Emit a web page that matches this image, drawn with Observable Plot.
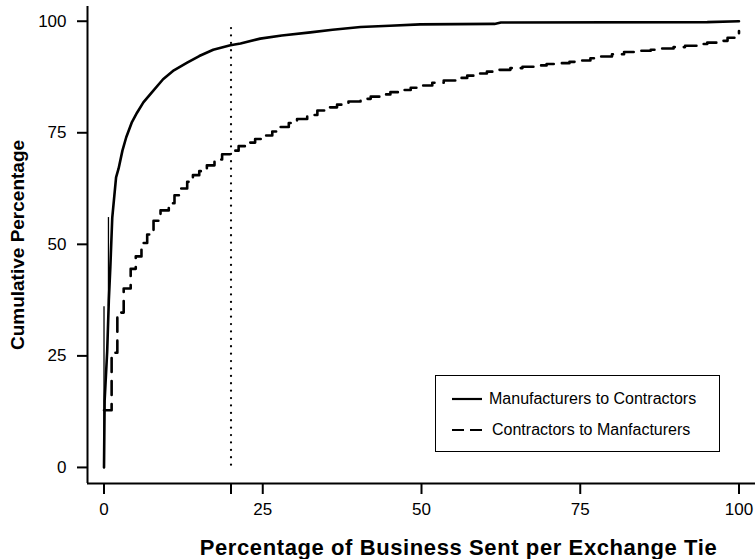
<!DOCTYPE html>
<html>
<head>
<meta charset="utf-8">
<script src="https://cdn.jsdelivr.net/npm/d3@7"></script>
<script src="https://cdn.jsdelivr.net/npm/@observablehq/plot@0.6"></script>
<style>
  body { margin: 0; background: #fff; }
  #chart { position: relative; width: 755px; height: 559px; font-family: "Liberation Sans", Arial, Helvetica, sans-serif; }
  #legend { position: absolute; left: 435px; top: 375px; width: 285px; height: 77px; box-sizing: border-box; border: 1.5px solid #000; background: #fff; }
  .item { position: absolute; left: 0; height: 20px; font-size: 16px; line-height: 20px; color: #000; white-space: nowrap; }
  .item svg { position: absolute; top: 0; }
  .item span { position: absolute; top: 0; }
</style>
</head>
<body>
<div id="chart"></div>
<script>
// ---- data ----
const seriesNames = ["Manufacturers to Contractors", "Contractors to Manfacturers"];

// Manufacturers to Contractors (solid)
const mcX = [0, 0.1, 0.5, 0.76, 1.0, 1.3, 1.9, 2.3, 2.9, 3.5, 4.4, 5.2, 6.2, 7.5, 9.3, 11.0, 13.1, 15.0, 17.2, 19.9, 21.5, 24.6, 28.0, 32.5, 36.0, 40.4, 45.0, 49.8, 61.5, 62.5, 95.0, 100];
const mcY = [0, 15, 26, 37.5, 45, 56, 65, 67, 71, 74, 77.4, 79.5, 81.8, 84, 87, 89, 90.7, 92.2, 93.6, 94.6, 95.0, 96.1, 96.8, 97.5, 98.1, 98.7, 99.0, 99.3, 99.4, 99.7, 99.8, 100];

// thin risers near zero on the solid curve
const spikeX  = [0, 0.7];
const spikeY1 = [0, 36];
const spikeY2 = [36, 56];

// Contractors to Manfacturers (dashed, step function)
const cmX = [0, 1.2, 2.1, 3.1, 4.2, 5.0, 5.9, 6.8, 7.8, 8.9, 10.2, 11.1, 12.0, 13.1, 14.0, 15.0, 16.2, 17.4, 18.6, 19.9, 21.2, 22.5, 23.8, 25.2, 26.5, 27.8, 29.1, 30.4, 32.0, 33.6, 35.2, 36.7, 38.5, 40.4, 42.0, 43.5, 45.1, 46.7, 48.3, 49.8, 51.7, 53.5, 55.4, 57.2, 58.8, 60.3, 62.2, 64.0, 65.9, 67.7, 69.7, 71.6, 73.3, 75.0, 76.6, 78.2, 80.0, 81.9, 84.0, 86.1, 87.9, 89.7, 91.5, 93.4, 95.0, 96.6, 98.2, 99.7, 100];
const cmY = [12.8, 25.7, 34.7, 40.1, 44.5, 47.3, 50.3, 52.2, 55.3, 57.6, 59.2, 61.0, 62.5, 64.0, 65.5, 66.4, 67.7, 69.0, 70.2, 71.0, 72.0, 72.8, 73.6, 74.4, 75.3, 76.3, 77.2, 78.1, 79.0, 80.0, 80.7, 81.3, 82.0, 82.6, 83.1, 83.6, 84.1, 84.6, 85.1, 85.6, 86.2, 86.7, 87.3, 87.8, 88.3, 88.7, 89.1, 89.5, 89.8, 90.1, 90.4, 90.6, 90.9, 91.2, 91.7, 92.1, 92.6, 93.1, 93.4, 93.6, 93.9, 94.2, 94.5, 94.9, 95.2, 95.6, 96.3, 97.2, 97.8];

// reference cut-off line
const cutoffX = [20];
const cutoffY1 = [0.5];
const cutoffY2 = [99.8];

const xTickLabels = [0, 25, 50, 75, 100];
const xTickMarks = [0, 20, 25, 50, 75, 100];
const yTickLabels = [0, 25, 50, 75, 100];
const xTitle = "Percentage of Business Sent per Exchange Tie";
const yTitle = "Cumulative Percentage";

// ---- build tables ----
const mc = mcX.map((x, i) => ({x, y: mcY[i]}));
const cm = cmX.map((x, i) => ({x, y: cmY[i]}));
const spikes = spikeX.map((x, i) => ({x, y1: spikeY1[i], y2: spikeY2[i]}));
const cutoff = cutoffX.map((x, i) => ({x, y1: cutoffY1[i], y2: cutoffY2[i]}));

const xDomain = [-2.6, 102.6];
const yDomain = [-3.6, 103.3];

const plot = Plot.plot({
  width: 755,
  height: 559,
  marginLeft: 87,
  marginRight: 0,
  marginTop: 6,
  marginBottom: 76,
  x: {domain: xDomain},
  y: {domain: yDomain},
  style: {fontFamily: '"Liberation Sans", Arial, Helvetica, sans-serif', fontSize: "17px", color: "#000", background: "#fff", overflow: "visible"},
  marks: [
    Plot.axisX({ticks: xTickMarks, tickSize: 11, tickPadding: 8, strokeWidth: 2, label: null,
      tickFormat: d => xTickLabels.includes(d) ? String(d) : ""}),
    Plot.axisY({ticks: yTickLabels, tickSize: 10, tickPadding: 11, strokeWidth: 2, label: null}),
    Plot.ruleX([xDomain[0]], {stroke: "#000", strokeWidth: 2}),
    Plot.ruleY([yDomain[0]], {stroke: "#000", strokeWidth: 2}),
    Plot.ruleX(cutoff, {x: "x", y1: "y1", y2: "y2", stroke: "#000", strokeWidth: 2.2, strokeDasharray: "0.1,7.3", strokeLinecap: "round"}),
    Plot.ruleX(spikes, {x: "x", y1: "y1", y2: "y2", stroke: "#000", strokeWidth: 1.3}),
    Plot.line(cm, {x: "x", y: "y", curve: "step-after", stroke: "#000", strokeWidth: 2.6, strokeDasharray: "14,9"}),
    Plot.line(mc, {x: "x", y: "y", curve: "linear", stroke: "#000", strokeWidth: 2.6}),
    Plot.text([yTitle], {frameAnchor: "left", textAnchor: "middle", rotate: -90, dx: -70, fontWeight: "bold", fontSize: 19, fill: "#000"}),
    Plot.text([xTitle], {frameAnchor: "bottom", textAnchor: "middle", dy: 64, dx: 37, fontWeight: "bold", fontSize: 22, fill: "#000", lineAnchor: "middle"})
  ]
});

// widen the x title to the reference's spacing
d3.select(plot).selectAll("text").filter(function() { return this.textContent === xTitle; })
  .style("letter-spacing", "0.6px");

const chart = document.getElementById("chart");
chart.appendChild(plot);

// legend
const legend = document.createElement("div");
legend.id = "legend";
const rows = [
  {name: seriesNames[0], top: 13, dash: null, textLeft: 53},
  {name: seriesNames[1], top: 44, dash: "12,6", textLeft: 56}
];
rows.forEach(r => {
  const item = document.createElement("div");
  item.className = "item";
  item.style.top = r.top + "px";
  item.innerHTML = `<svg width="60" height="20" style="left:0"><line x1="16" x2="46" y1="10" y2="10" stroke="#000" stroke-width="2.2" ${r.dash ? `stroke-dasharray="${r.dash}"` : ""}/></svg><span style="left:${r.textLeft}px">${r.name}</span>`;
  legend.appendChild(item);
});
chart.appendChild(legend);
</script>
</body>
</html>
